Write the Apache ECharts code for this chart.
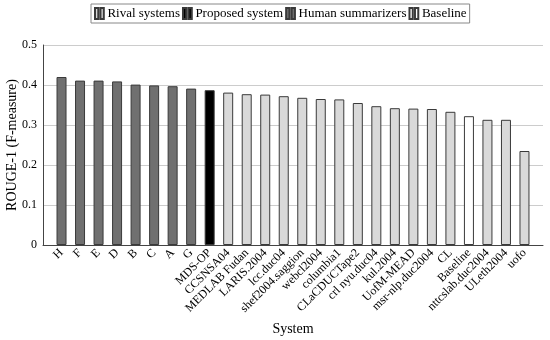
<!DOCTYPE html>
<html><head><meta charset="utf-8">
<script src="https://cdn.jsdelivr.net/npm/echarts@6/dist/echarts.min.js"></script>
<style>html,body{margin:0;padding:0;background:#fff}#c{width:550px;height:340px}</style>
</head><body><div id="c"></div>
<script>
const categories = ["H","F","E","D","B","C","A","G","MDS-OP","CCSNSA04","MEDLAB Fudan","LARIS.2004","lcc.duc04","shef2004.saggion","webcl2004","columbia1","CLaCDUCTape2","crl nyu.duc04","kul.2004","UofM-MEAD","msr-nlp.duc2004","CL","Baseline","nttcslab.duc2004","ULeth2004","uofo"];
const values = [0.420,0.411,0.411,0.409,0.401,0.399,0.397,0.391,0.387,0.381,0.377,0.376,0.372,0.368,0.365,0.364,0.355,0.347,0.342,0.341,0.340,0.333,0.322,0.313,0.313,0.235];
const groups = ["Human summarizers","Human summarizers","Human summarizers","Human summarizers","Human summarizers","Human summarizers","Human summarizers","Human summarizers","Proposed system","Rival systems","Rival systems","Rival systems","Rival systems","Rival systems","Rival systems","Rival systems","Rival systems","Rival systems","Rival systems","Rival systems","Rival systems","Rival systems","Baseline","Rival systems","Rival systems","Rival systems"];
const seriesNames = ["Rival systems","Proposed system","Human summarizers","Baseline"];
const yTicks = [0,0.1,0.2,0.3,0.4,0.5];

const fills = {"Rival systems":"#d9d9d9","Proposed system":"#000000","Human summarizers":"#707070","Baseline":"#ffffff"};
const font = "'Liberation Serif', 'DejaVu Serif', serif";

const series = seriesNames.map(name => ({
  name: name,
  type: 'bar',
  barWidth: 10,
  barGap: '-100%',
  data: categories.map((c,i) => groups[i] === name ? [i, values[i]] : null).filter(d => d),
  itemStyle: {color: fills[name], borderColor: '#3a3a3a', borderWidth: 1},
  emphasis: {disabled: true}
}));

const chart = echarts.init(document.getElementById('c'), null, {renderer: 'canvas'});
chart.setOption({
  animation: false,
  textStyle: {fontFamily: font},
  legend: {
    top: 4, left: 91,
    data: seriesNames.map(n => ({name: n, icon: 'path://M0,0h3v10h-3z M5,0h3v10h-3z'})),
    itemWidth: 10, itemHeight: 11, itemGap: 2,
    padding: [3, 3, 3, 3],
    borderColor: '#888', borderWidth: 1,
    textStyle: {fontFamily: font, fontSize: 13, color: '#000', padding: [0,0,0,-2]}
  },
  grid: {left: 43, right: 7, top: 45, bottom: 95, containLabel: false, outerBoundsMode: 'none'},
  xAxis: {
    type: 'value', min: -1, max: 26, interval: 1,
    name: 'System', nameLocation: 'middle', nameGap: 76,
    nameTextStyle: {fontFamily: font, fontSize: 14, color: '#000'},
    axisLine: {show: true, onZero: false, lineStyle: {color: '#444'}},
    axisTick: {show: false},
    splitLine: {show: false},
    axisLabel: {
      rotate: 45, fontFamily: font, fontSize: 12, color: '#000', margin: 6,
      formatter: v => (Number.isInteger(v) && v >= 0 && v < categories.length) ? categories[v] : ''
    }
  },
  yAxis: {
    type: 'value', min: 0, max: 0.5, interval: 0.1,
    name: 'ROUGE-1 (F-measure)', nameLocation: 'middle', nameGap: 24, nameMoveOverlap: false,
    nameTextStyle: {fontFamily: font, fontSize: 14, color: '#000'},
    axisLine: {show: true, onZero: false, lineStyle: {color: '#444'}},
    axisTick: {show: false},
    splitLine: {show: true, lineStyle: {color: '#cccccc', width: 1, type: 'solid'}},
    axisLabel: {fontFamily: font, fontSize: 12, color: '#000', margin: 6,
      formatter: v => { const t = yTicks.find(x => Math.abs(x - v) < 1e-9); return t === undefined ? '' : String(t); }}
  },
  series: series
});
</script></body></html>
